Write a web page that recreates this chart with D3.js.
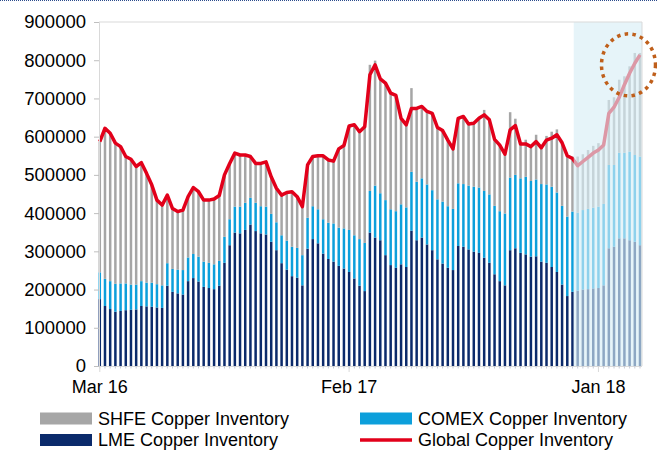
<!DOCTYPE html>
<html>
<head>
<meta charset="utf-8">
<script src="https://cdn.jsdelivr.net/npm/d3@7"></script>
<style>
body { margin: 0; background: #fff; }
svg { display: block; font-family: "Liberation Sans", Arial, sans-serif; }
</style>
</head>
<body>
<svg id="chart" width="657" height="450"></svg>
<script>
// weekly inventories, thousand tonnes (Mar 2016 -> Feb 2018)
const lme = [175,157,149,142,144,146,147,148,157,156,155,153,152,210,194,190,187,222,230,221,
  207,204,201,210,270,316,349,347,356,370,353,347,344,325,303,269,252,235,231,211,
  307,332,321,294,280,273,262,255,246,229,210,196,349,336,329,290,264,257,266,259,
  354,329,336,318,303,279,268,257,251,314,312,305,299,296,283,270,240,222,211,303,
  308,296,292,286,287,273,270,259,246,213,183,194,197,200,201,203,204,211,308,312,
  334,334,329,325,316];
const comex = [70,71,73,73,72,70,66,65,65,62,63,61,59,59,60,62,64,62,63,65,
  66,66,65,65,68,68,68,70,71,70,74,71,73,73,73,73,76,77,78,79,
  81,86,89,90,95,100,100,105,110,113,122,126,109,136,123,144,146,148,157,156,
  154,153,155,157,157,157,162,161,160,164,164,167,170,171,175,179,179,183,188,190,
  192,195,203,198,201,203,205,210,208,206,208,210,204,208,210,211,213,213,218,214,
  224,224,232,227,232];
const shfe = [342,394,387,368,358,332,328,309,310,286,256,220,210,178,158,152,157,159,174,170,
  161,164,171,171,162,146,140,135,125,108,103,112,117,97,89,105,126,144,134,127,
  138,130,140,166,164,163,206,217,272,289,281,304,330,327,299,306,304,303,225,216,
  219,192,188,191,201,188,186,173,157,170,177,161,166,181,212,195,174,173,155,171,
  147,90,97,90,117,95,127,144,165,165,159,144,147,146,154,162,166,161,170,177,
  191,200,223,267,271];
const globalInv = [587,622,609,583,574,548,541,522,532,504,474,434,421,447,412,404,408,443,467,456,
  434,434,437,446,500,530,557,552,552,548,530,530,534,495,465,447,454,456,443,417,
  526,548,550,550,539,536,568,577,628,631,613,626,762,788,751,740,714,708,648,631,
  674,674,679,666,661,624,616,591,568,648,653,633,635,648,657,644,593,578,554,618,
  629,581,581,574,587,571,591,596,605,584,550,543,524,535,546,557,565,578,661,677,
  703,736,766,792,814];

const tickWeeks = [0, 48, 96];
const tickLabels = ["Mar 16", "Feb 17", "Jan 18"];
const forecastFrom = 92;   // shaded weeks start here

const seriesKeys = ["lme", "comex", "shfe"];
const seriesNames = {shfe: "SHFE Copper Inventory", comex: "COMEX Copper Inventory",
                     lme: "LME Copper Inventory", global: "Global Copper Inventory"};
const colors = {shfe: "#a6a6a6", comex: "#0c9fdb", lme: "#0b2a6b", global: "#e2001a"};

const weeks = d3.range(lme.length);
const table = weeks.map(i => ({week: i, lme: lme[i], comex: comex[i], shfe: shfe[i]}));

const plot = {left: 99, right: 642, top: 22, bottom: 366};

const svg = d3.select("#chart");

const step = (640 - 99.8) / (weeks.length - 1);
const x = d3.scaleBand()
    .domain(weeks)
    .range([99.8 - step / 2, 640 + step / 2])
    .paddingInner(0.52)
    .paddingOuter(0.26);

const y = d3.scaleLinear().domain([0, 900]).range([plot.bottom, plot.top]);

// top dotted rule of the page
svg.append("line")
    .attr("x1", 0).attr("x2", 657).attr("y1", 0.5).attr("y2", 0.5)
    .style("stroke", "#2d4c8c").style("stroke-dasharray", "1,1");

//bars
const stacked = d3.stack().keys(seriesKeys)(table);
svg.append("g").selectAll("g")
    .data(stacked)
    .enter().append("g")
        .style("fill", d => colors[d.key])
    .selectAll("rect")
    .data(d => d)
    .enter().append("rect")
        .attr("x", d => x(d.data.week))
        .attr("width", x.bandwidth())
        .attr("y", d => y(d[1]))
        .attr("height", d => y(d[0]) - y(d[1]));

//global line
const line = d3.line()
    .x((d, i) => x(i) + x.bandwidth() / 2)
    .y(d => y(d));

svg.append("path")
    .datum(globalInv)
    .attr("d", line)
    .style("fill", "none")
    .style("stroke", colors.global)
    .style("stroke-width", 3.5)
    .style("stroke-linejoin", "round");

//shaded forecast area
const shadeX = x(forecastFrom) - (x.step() - x.bandwidth());
svg.append("rect")
    .attr("x", shadeX)
    .attr("y", plot.top)
    .attr("width", plot.right - shadeX)
    .attr("height", plot.bottom - plot.top)
    .style("fill", "rgb(216,238,246)")
    .style("fill-opacity", 0.64);

// plot frame (top + right)
svg.append("path")
    .attr("d", `M${plot.left},${plot.top}H${plot.right}V${plot.bottom}`)
    .style("fill", "none").style("stroke", "#d9d9d9");

// y axis
const yAxis = svg.append("g")
    .attr("transform", `translate(${plot.left},0)`)
    .call(d3.axisLeft(y).ticks(9).tickSize(5).tickPadding(8).tickFormat(d => d3.format("d")(d * 1000)));
yAxis.select(".domain").style("stroke", "#d9d9d9");
yAxis.selectAll(".tick line").style("stroke", "#bfbfbf");
yAxis.selectAll("text").style("font-size", "18.5px").style("fill", "#000")
    .style("font-family", "Liberation Sans, Arial, sans-serif");

// x axis
svg.append("line")
    .attr("x1", plot.left).attr("x2", plot.right)
    .attr("y1", plot.bottom + 0.5).attr("y2", plot.bottom + 0.5)
    .style("stroke", "#d9d9d9");

svg.append("g").selectAll("line")
    .data(weeks)
    .enter().append("line")
        .attr("x1", d => x(d) + x.bandwidth() / 2)
        .attr("x2", d => x(d) + x.bandwidth() / 2)
        .attr("y1", plot.bottom)
        .attr("y2", plot.bottom + 2.5)
        .style("stroke", "#c8cdd8");

const xAxis = svg.append("g")
    .attr("transform", `translate(0,${plot.bottom})`)
    .call(d3.axisBottom(x).tickValues(tickWeeks).tickSize(6).tickPadding(8)
        .tickFormat(d => tickLabels[tickWeeks.indexOf(d)]));
xAxis.select(".domain").remove();
xAxis.selectAll(".tick line").style("stroke", "#d9d9d9");
xAxis.selectAll("text").style("font-size", "18px").style("fill", "#000")
    .style("font-family", "Liberation Sans, Arial, sans-serif");

// dotted highlight ring round the latest point
const last = globalInv.length - 1;
svg.append("ellipse")
    .attr("cx", x(last) + x.bandwidth() / 2 - 11.5)
    .attr("cy", y(globalInv[last]) + 10)
    .attr("rx", 27)
    .attr("ry", 31)
    .style("fill", "none")
    .style("stroke", "#bf5f1b")
    .style("stroke-width", 3.5)
    .style("stroke-dasharray", "3.5,4.3");

//legend
const legendItems = [
    {key: "shfe", col: 0, row: 0},
    {key: "comex", col: 1, row: 0},
    {key: "lme", col: 0, row: 1},
    {key: "global", col: 1, row: 1}
];
const legend = svg.append("g").attr("id", "legend");
const item = legend.selectAll("g")
    .data(legendItems)
    .enter().append("g")
        .attr("transform", d => `translate(${40 + d.col * 320},${418.5 + d.row * 21.5})`);

item.filter(d => d.key !== "global").append("rect")
    .attr("x", 0).attr("y", -6).attr("width", 52).attr("height", 12)
    .style("fill", d => colors[d.key]);

item.filter(d => d.key === "global").append("line")
    .attr("x1", 0).attr("x2", 52).attr("y1", 0).attr("y2", 0)
    .style("stroke", colors.global).style("stroke-width", 3.5);

item.append("text")
    .attr("x", 58)
    .attr("y", 6)
    .style("font-size", "18px")
    .text(d => seriesNames[d.key]);
</script>
</body>
</html>
